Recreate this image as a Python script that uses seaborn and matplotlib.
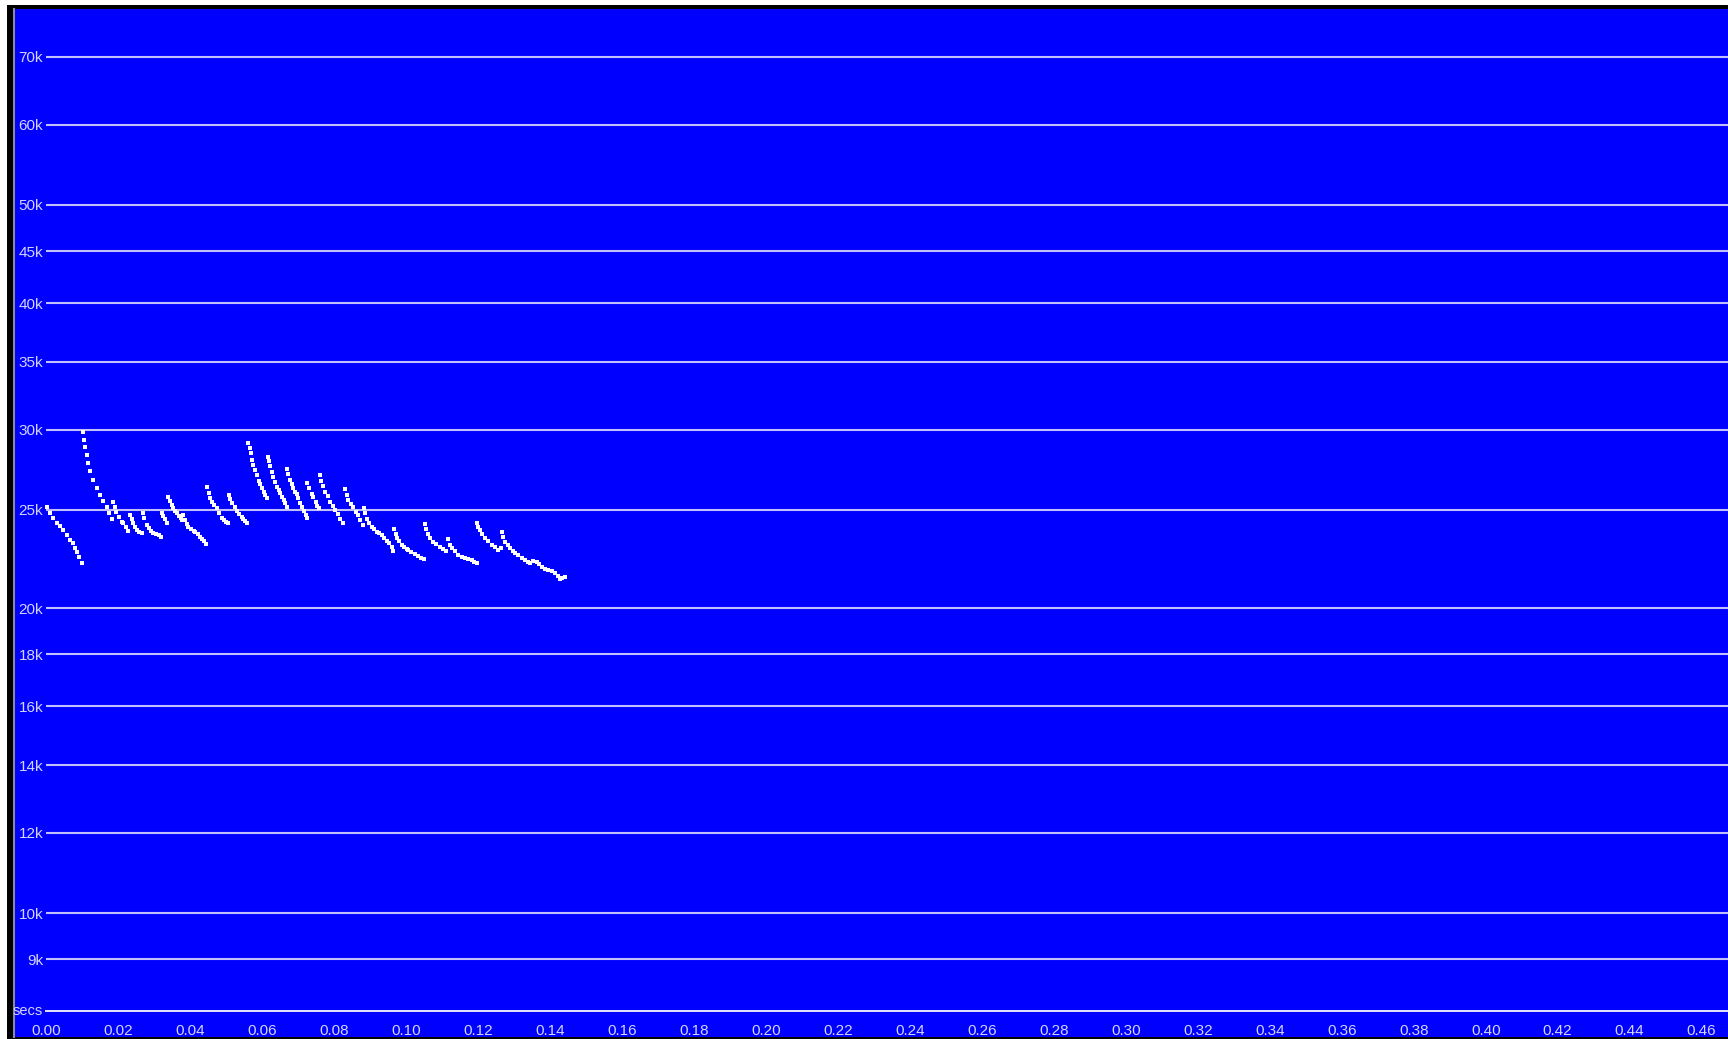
import numpy as np
import pandas as pd
import seaborn as sns
import matplotlib
matplotlib.use("Agg")
import matplotlib.pyplot as plt
from matplotlib import font_manager
from matplotlib.patches import Rectangle
from matplotlib.ticker import FixedLocator

# ---- echolocation call dots: time (ms) and frequency (kHz), one row per pulse ----
dot_time_ms = [
    0.28, 1.19, 2.11, 3.14, 3.97, 4.94, 5.83, 6.75, 7.67, 8.14, 8.61, 9.25, 10.17,
    10.28, 10.64, 10.92, 11.33, 11.83, 12.44, 13.22, 14.11, 15.08, 15.92, 16.94, 17.58, 18.33,
    18.61, 19.11, 19.61, 20.36, 21.11, 21.56, 22.17, 22.94,
    23.42, 23.83, 24.33, 24.81, 25.28, 25.92, 26.67,
    26.89, 27.31, 28.06, 28.69, 29.25, 29.89, 30.64, 31.33, 31.94,
    32.22, 32.58, 33.00, 33.61,
    34.06, 34.53, 35.00, 35.44, 35.92, 36.47, 37.03, 37.58, 37.86,
    38.22, 38.69, 39.11, 39.61, 40.36, 41.06, 41.47, 42.17, 42.86, 43.42, 43.97, 44.53,
    44.72, 45.22, 45.64, 46.19, 46.61, 47.50, 48.14, 48.89, 49.53, 50.08, 50.72,
    51.00, 51.33, 51.75, 52.58, 53.14, 53.69, 54.44, 54.94, 55.36, 55.92,
    56.33, 56.61, 56.89, 57.22, 57.67, 58.14, 58.61, 59.11, 59.53, 60.00, 60.50, 60.92, 61.39,
    61.67, 61.89, 62.31, 62.78, 63.22, 63.69, 64.17, 64.67, 65.08, 65.56, 66.06, 66.47, 66.94,
    67.11, 67.44, 67.86, 68.33, 68.69, 69.25, 69.72, 70.08, 70.64, 71.19, 71.75, 72.17, 72.67,
    72.67, 73.22, 73.89, 74.33, 75.08, 75.44, 75.83,
    76.06, 76.47, 76.89, 77.58, 78.28, 78.97, 79.67, 80.36, 81.06, 81.75, 82.67,
    83.14, 83.56, 84.06, 84.67, 85.44, 86.19, 86.61, 87.31, 88.06,
    88.33, 88.69, 89.17, 89.67, 90.56, 91.19, 91.94, 92.58, 93.33, 93.97, 94.72, 95.36, 96.11, 96.56,
    96.83, 97.17, 97.67, 98.14, 98.89, 99.53, 100.28, 100.72, 101.47, 102.58, 103.42, 104.25, 105.17,
    105.36, 105.64, 106.06, 106.75, 107.67, 108.42, 109.53, 110.36, 111.19,
    111.67, 112.17, 112.78, 113.69, 114.61, 115.50, 116.47, 117.31, 118.33, 118.97, 119.72,
    119.89, 120.22, 120.64, 121.33, 122.03, 122.86, 123.89, 124.67, 125.72, 126.47,
    126.67, 127.03, 127.58, 128.28, 128.97, 129.67, 130.36, 131.19, 132.22, 133.14, 133.97, 134.53,
    135.36, 136.39, 137.03, 137.78, 138.69, 139.61, 140.50, 141.47, 142.31, 142.86, 143.42, 144.25,
]
dot_freq_khz = [
    25.17, 24.83, 24.53, 24.27, 24.11, 23.86, 23.62, 23.35, 23.18, 22.93, 22.74, 22.47, 22.18,
    29.82, 29.31, 28.87, 28.33, 27.80, 27.32, 26.77, 26.28, 25.87, 25.52, 25.15, 24.83, 24.48,
    25.48, 25.17, 24.90, 24.61, 24.35, 24.25, 24.03, 23.84,
    24.72, 24.47, 24.26, 24.05, 23.89, 23.78, 23.74,
    24.81, 24.55, 24.16, 23.97, 23.84, 23.74, 23.67, 23.59, 23.51,
    24.81, 24.63, 24.49, 24.29,
    25.77, 25.49, 25.28, 25.10, 24.94, 24.80, 24.66, 24.52, 24.41,
    24.72, 24.44, 24.19, 24.05, 23.92, 23.84, 23.78, 23.67, 23.53, 23.40, 23.27, 23.14,
    26.31, 25.99, 25.67, 25.46, 25.31, 25.10, 24.83, 24.53, 24.41, 24.33, 24.26,
    25.87, 25.63, 25.37, 25.15, 24.94, 24.77, 24.62, 24.49, 24.36, 24.26,
    29.13, 28.79, 28.46, 28.01, 27.69, 27.35, 27.07, 26.70, 26.49, 26.27, 26.05, 25.84, 25.67,
    28.20, 27.95, 27.60, 27.27, 26.95, 26.64, 26.36, 26.13, 25.97, 25.77, 25.57, 25.37, 25.19,
    27.42, 27.10, 26.77, 26.52, 26.28, 26.06, 25.93, 25.69, 25.38, 25.17, 24.94, 24.72, 24.53,
    26.56, 26.27, 25.93, 25.77, 25.48, 25.23, 25.13,
    27.07, 26.70, 26.40, 26.06, 25.81, 25.48, 25.23, 25.00, 24.77, 24.49, 24.26,
    26.19, 25.87, 25.57, 25.34, 25.14, 24.89, 24.69, 24.44, 24.16,
    25.13, 24.83, 24.49, 24.27, 24.07, 23.94, 23.80, 23.70, 23.59, 23.46, 23.30, 23.19, 23.00, 22.79,
    23.93, 23.67, 23.44, 23.27, 23.09, 22.96, 22.88, 22.83, 22.73, 22.60, 22.50, 22.42, 22.35,
    24.22, 23.94, 23.67, 23.46, 23.26, 23.14, 22.98, 22.85, 22.75,
    23.39, 23.11, 22.92, 22.75, 22.57, 22.47, 22.41, 22.35, 22.31, 22.21, 22.15,
    24.26, 24.05, 23.89, 23.65, 23.44, 23.27, 23.09, 22.96, 22.83, 22.92,
    23.80, 23.51, 23.26, 23.06, 22.92, 22.78, 22.66, 22.55, 22.41, 22.31, 22.21, 22.15,
    22.24, 22.23, 22.09, 21.94, 21.88, 21.81, 21.74, 21.65, 21.52, 21.35, 21.44, 21.48,
]

# ---- frequency grid (kHz) and its labels ----
grid_khz = [70, 60, 50, 45, 40, 35, 30, 25, 20, 18, 16, 14, 12, 10, 9]
grid_labels = [f"{g}k" for g in grid_khz]

# ---- time axis ticks (s) ----
time_major = [round(0.02 * i, 2) for i in range(24)]
time_major_labels = [f"{t:.2f}" for t in time_major]
time_minor = [round(0.01 * i, 2) for i in range(47)]

# ---- view window ----
t_min, t_max = -0.00881, 0.46731
f_min, f_max = 7.545, 78.06
axis_khz = 8.0

BLUE = "#0000ff"
GRID = "#c0c0ff"
TEXT = "#d4d4ff"
AXIS = "#e4e4ff"

sns.set_style("dark")
names = {f.name for f in font_manager.fontManager.ttflist}
if "Liberation Sans Narrow" in names:
    family = ["Liberation Sans Narrow", "DejaVu Sans"]
elif "Liberation Sans" in names:
    family = ["Liberation Sans", "DejaVu Sans"]
else:
    family = ["DejaVu Sans"]
plt.rcParams["font.family"] = family

W, H = 1728, 1039
fig = plt.figure(figsize=(W / 100, H / 100), dpi=100, facecolor="white")

# black window frame behind the plot area
fig.add_artist(Rectangle((7 / W, 0), 1 - 7 / W, (H - 5) / H, transform=fig.transFigure,
                         facecolor="black", edgecolor="none", zorder=0))

ax = fig.add_axes([14 / W, 2 / H, (W - 14) / W, (1037 - 9) / H])
ax.set_facecolor(BLUE)
ax.set_yscale("log")
ax.set_xlim(t_min, t_max)
ax.set_ylim(f_min, f_max)
ax.grid(False)

# horizontal frequency lines
ax.hlines(grid_khz, 0, t_max, colors=GRID, linewidth=1.5, zorder=1)

# call dots
df = pd.DataFrame({"time": np.array(dot_time_ms) / 1000.0, "freq": dot_freq_khz})
sns.scatterplot(data=df, x="time", y="freq", ax=ax, color="white", marker="s",
                s=5, linewidth=0, legend=False, zorder=3)
ax.set_xlabel("")
ax.set_ylabel("")

# frequency labels inside the panel, to the left of the lines
ax.yaxis.set_major_locator(FixedLocator(grid_khz))
ax.yaxis.set_minor_locator(FixedLocator([]))
ax.set_yticklabels(grid_labels)
ax.tick_params(axis="y", which="both", length=0, pad=-21.0, labelsize=11, labelcolor=TEXT)

# time axis drawn at 8 kHz
for side in ("top", "right"):
    ax.spines[side].set_visible(False)
ax.spines["left"].set_color("#8a8a9a")
ax.spines["left"].set_linewidth(1.5)
ax.spines["bottom"].set_position(("data", axis_khz))
ax.spines["bottom"].set_bounds(0, t_max)
ax.spines["bottom"].set_color(AXIS)
ax.spines["bottom"].set_linewidth(1.4)
ax.xaxis.set_major_locator(FixedLocator(time_major))
ax.xaxis.set_minor_locator(FixedLocator(time_minor))
ax.set_xticklabels(time_major_labels)
ax.tick_params(axis="x", which="major", direction="out", length=6.5, width=1.3,
               color=AXIS, pad=2.5, labelsize=11, labelcolor=TEXT)
ax.tick_params(axis="x", which="minor", direction="out", length=3.0, width=1.3, color=AXIS)

ax.text(-0.00075, axis_khz, "secs", ha="right", va="center", fontsize=10.5,
        color=TEXT, zorder=4)

fig.savefig("out.png", dpi=100, facecolor="white")
